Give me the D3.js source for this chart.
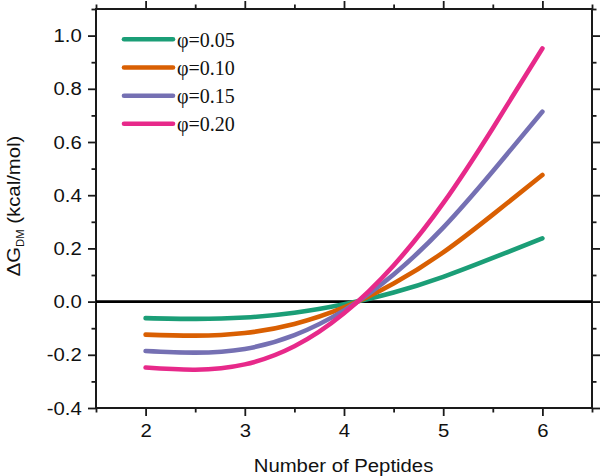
<!DOCTYPE html>
<html>
<head>
<meta charset="utf-8">
<script src="https://d3js.org/d3.v7.min.js"></script>
<style>
  html, body { margin: 0; padding: 0; background: #fff; }
  svg { display: block; }
</style>
</head>
<body>
<svg id="chart" width="600" height="476"></svg>
<script>
// ---- data ----
const peptides = [2, 2.5, 3, 3.5, 4, 4.5, 5, 5.5, 6];
const phi005 = [-0.062, -0.065, -0.060, -0.042, -0.010, 0.034, 0.093, 0.164, 0.238];
const phi010 = [-0.124, -0.128, -0.118, -0.084, -0.022, 0.068, 0.185, 0.327, 0.476];
const phi015 = [-0.186, -0.192, -0.178, -0.126, -0.033, 0.102, 0.278, 0.490, 0.714];
const phi020 = [-0.248, -0.256, -0.236, -0.168, -0.044, 0.136, 0.370, 0.652, 0.952];
const seriesNames = ["\u03C6=0.05", "\u03C6=0.10", "\u03C6=0.15", "\u03C6=0.20"];
const seriesColors = ["#1b9e77", "#d95f02", "#7570b3", "#e7298a"];
const xTicks = [2, 3, 4, 5, 6];
const xMinorTicks = [1.5, 2.5, 3.5, 4.5, 5.5, 6.5];
const yTicks = [-0.4, -0.2, 0.0, 0.2, 0.4, 0.6, 0.8, 1.0];
const yMinorTicks = [-0.3, -0.1, 0.1, 0.3, 0.5, 0.7, 0.9, 1.1];
const xTitle = "Number of Peptides";

const svg = d3.select("#chart");
const L = 96, R = 592, T = 9, B = 408;
const x = d3.scaleLinear().domain([1.5, 6.5]).range([L, R]);
const y = d3.scaleLinear().domain([-0.4, 1.1]).range([B, T]);
const SX = 1.13;
const sans = "'Liberation Sans', Arial, sans-serif";
const serif = "'Liberation Serif', 'Times New Roman', serif";
const axisColor = "#1a1a1a";

function styleAxis(g) {
  g.select(".domain").remove();
  g.selectAll(".tick line").attr("stroke", axisColor).attr("stroke-width", 1.8);
}

// major / minor ticks, all four sides
const fmt = d => d.toFixed(1);
svg.append("g").attr("transform", `translate(${L},0)`)
  .call(d3.axisLeft(y).tickValues(yTicks).tickSize(8).tickFormat(fmt)).call(styleAxis)
  .selectAll("text")
  .attr("x", -12.6).attr("dy", "0.34em")
  .attr("transform", `scale(${SX},1)`)
  .style("font-family", sans).style("font-size", "18px").attr("fill", "#111");
svg.append("g").attr("transform", `translate(${L},0)`)
  .call(d3.axisLeft(y).tickValues(yMinorTicks).tickSize(4.5).tickFormat("")).call(styleAxis);
svg.append("g").attr("transform", `translate(${R},0)`)
  .call(d3.axisRight(y).tickValues(yTicks).tickSize(8).tickFormat("")).call(styleAxis);
svg.append("g").attr("transform", `translate(${R},0)`)
  .call(d3.axisRight(y).tickValues(yMinorTicks).tickSize(4.5).tickFormat("")).call(styleAxis);

svg.append("g").attr("transform", `translate(0,${B})`)
  .call(d3.axisBottom(x).tickValues(xTicks).tickSize(8).tickFormat(d3.format("d"))).call(styleAxis)
  .selectAll("text")
  .attr("y", 29).attr("dy", 0)
  .attr("transform", `scale(${SX},1)`)
  .style("font-family", sans).style("font-size", "18px").attr("fill", "#111");
svg.append("g").attr("transform", `translate(0,${B})`)
  .call(d3.axisBottom(x).tickValues(xMinorTicks).tickSize(4.5).tickFormat("")).call(styleAxis);
svg.append("g").attr("transform", `translate(0,${T})`)
  .call(d3.axisTop(x).tickValues(xTicks).tickSize(8).tickFormat("")).call(styleAxis);
svg.append("g").attr("transform", `translate(0,${T})`)
  .call(d3.axisTop(x).tickValues(xMinorTicks).tickSize(4.5).tickFormat("")).call(styleAxis);

// frame
svg.append("rect").attr("x", L).attr("y", T).attr("width", R - L).attr("height", B - T)
  .attr("fill", "none").attr("stroke", axisColor).attr("stroke-width", 2);

// zero line
svg.append("line")
  .attr("x1", x(1.5)).attr("x2", x(6.5)).attr("y1", y(0)).attr("y2", y(0))
  .attr("stroke", "#000").attr("stroke-width", 2.6);

// curves
const allSeries = [phi005, phi010, phi015, phi020];
const line = d3.line().x((d, i) => x(peptides[i])).y(d => y(d)).curve(d3.curveNatural);
allSeries.forEach((vals, k) => {
  svg.append("path").datum(vals).attr("d", line)
    .attr("fill", "none").attr("stroke", seriesColors[k])
    .attr("stroke-width", 4.6).attr("stroke-linecap", "round").attr("stroke-linejoin", "round");
});

// legend
const legY = [39.3, 67.5, 95.7, 123.7];
seriesNames.forEach((name, k) => {
  svg.append("line").attr("x1", 124).attr("x2", 173).attr("y1", legY[k]).attr("y2", legY[k])
    .attr("stroke", seriesColors[k]).attr("stroke-width", 4.6).attr("stroke-linecap", "round");
  svg.append("text").attr("x", 177).attr("y", legY[k] + 7.2)
    .style("font-family", serif).style("font-size", "20px").attr("fill", "#111")
    .text(name);
});

// axis titles
svg.append("text")
  .attr("transform", `translate(343.5,472) scale(${SX},1)`)
  .attr("text-anchor", "middle")
  .style("font-family", sans).style("font-size", "18px").attr("fill", "#111")
  .text(xTitle);

const yt = svg.append("text")
  .attr("transform", `translate(20,206) rotate(-90) scale(${SX},1)`)
  .attr("text-anchor", "middle")
  .style("font-family", sans).style("font-size", "18px").attr("fill", "#111");
yt.append("tspan").text("\u0394G");
yt.append("tspan").attr("dy", 3.5).style("font-size", "10px").text("DM");
yt.append("tspan").attr("dy", -3.5).text(" (kcal/mol)");
</script>
</body>
</html>
